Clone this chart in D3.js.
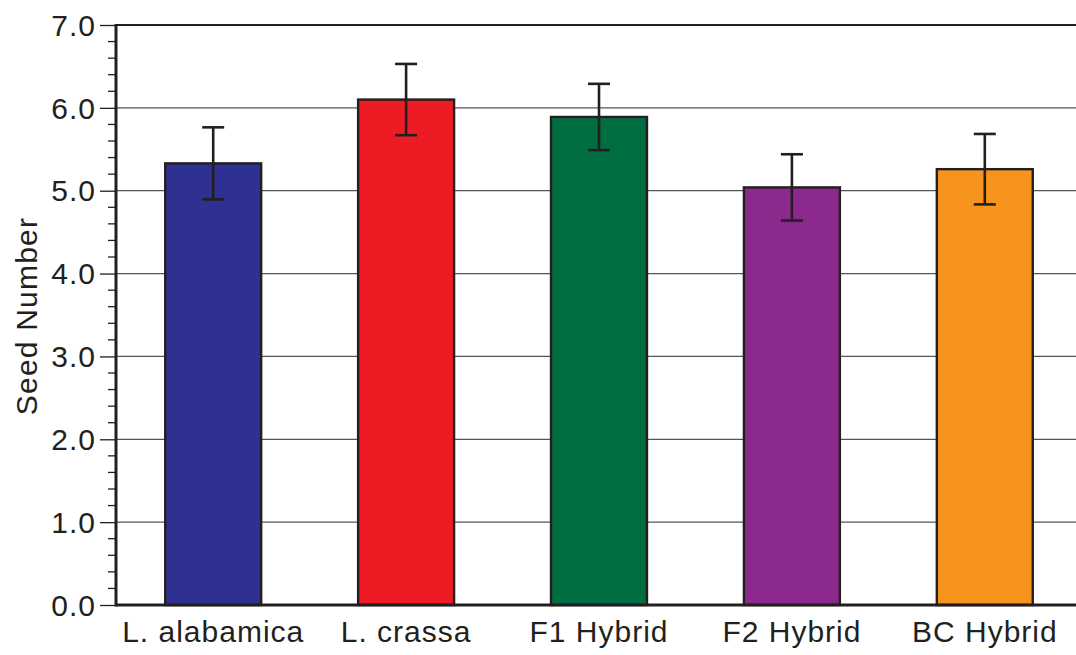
<!DOCTYPE html>
<html>
<head>
<meta charset="utf-8">
<script src="https://cdn.jsdelivr.net/npm/d3@7"></script>
<style>
  html, body { margin: 0; padding: 0; background: #fff; }
  svg { display: block; font-family: "Liberation Sans", Arial, Helvetica, sans-serif; }
</style>
</head>
<body>
<svg id="chart" width="1076" height="655"></svg>
<script>
// Mean seed number per cross type, with error bar half-widths
const categories = ["L. alabamica", "L. crassa", "F1 Hybrid", "F2 Hybrid", "BC Hybrid"];
const means = [5.33, 6.10, 5.89, 5.04, 5.26];
const errors = [0.435, 0.43, 0.40, 0.40, 0.425];
const colors = ["#2e3192", "#ed1c24", "#006e41", "#8b2a8c", "#f7941d"];
const yTicks = [0, 1, 2, 3, 4, 5, 6, 7];
const yLabel = "Seed Number";

const svg = d3.select("#chart");
const margin = { top: 25, right: 0, bottom: 50, left: 116 };
const W = 1076, H = 655;
const plotW = W - margin.left - margin.right;
const plotH = H - margin.top - margin.bottom;
const ink = "#231f20";
const fontFam = "'Liberation Sans', Arial, sans-serif";

const g = svg.append("g").attr("transform", `translate(${margin.left},${margin.top})`);

const x = d3.scaleBand().domain(categories).range([1, 965]).paddingInner(0.5026).paddingOuter(0.25);
const y = d3.scaleLinear().domain([0, 7]).range([plotH, 0]);

// horizontal gridlines
g.append("g").selectAll("line").data(yTicks.filter(t => t > 0 && t < 7)).join("line")
  .attr("x1", 0).attr("x2", plotW)
  .attr("y1", d => y(d)).attr("y2", d => y(d))
  .attr("stroke", "#555").attr("stroke-width", 1.3);

// top frame line
g.append("line").attr("x1", 0).attr("x2", plotW).attr("y1", y(7)).attr("y2", y(7))
  .attr("stroke", ink).attr("stroke-width", 2.2);

// bars
g.append("g").selectAll("rect").data(categories).join("rect")
  .attr("x", d => x(d))
  .attr("y", (d, i) => y(means[i]))
  .attr("width", x.bandwidth())
  .attr("height", (d, i) => plotH - y(means[i]))
  .attr("fill", (d, i) => colors[i])
  .attr("stroke", ink).attr("stroke-width", 2.4);

// error bars
const eb = g.append("g").attr("stroke", ink).attr("stroke-width", 2.6);
categories.forEach((c, i) => {
  const cx = x(c) + x.bandwidth() / 2;
  const hi = y(means[i] + errors[i]), lo = y(means[i] - errors[i]);
  eb.append("line").attr("x1", cx).attr("x2", cx).attr("y1", hi).attr("y2", lo);
  eb.append("line").attr("x1", cx - 11).attr("x2", cx + 11).attr("y1", hi).attr("y2", hi);
  eb.append("line").attr("x1", cx - 11).attr("x2", cx + 11).attr("y1", lo).attr("y2", lo);
});

// minor ticks on the y axis
g.append("g").selectAll("line").data(d3.range(0, 7.01, 0.2).filter(v => Math.abs(v - Math.round(v)) > 0.01)).join("line")
  .attr("x1", -8).attr("x2", 0)
  .attr("y1", d => y(d)).attr("y2", d => y(d))
  .attr("stroke", ink).attr("stroke-width", 1.3);

// y axis with major ticks
const yAxis = d3.axisLeft(y).tickValues(yTicks).tickFormat(d3.format(".1f")).tickSize(16).tickPadding(4);
const ya = g.append("g").call(yAxis);
ya.select(".domain").remove();
ya.selectAll(".tick line").attr("stroke", ink).attr("stroke-width", 1.3);
ya.selectAll(".tick text").attr("font-size", 30).attr("letter-spacing", 1).attr("fill", ink)
  .attr("font-family", fontFam).attr("dy", "0.34em");

g.append("line").attr("x1", 0).attr("x2", 0).attr("y1", -1).attr("y2", plotH + 1.5)
  .attr("stroke", ink).attr("stroke-width", 3);

// x axis baseline and category labels
const xAxis = d3.axisBottom(x).tickSize(0).tickPadding(0);
const xa = g.append("g").attr("transform", `translate(0,${plotH})`).call(xAxis);
xa.select(".domain").remove();
xa.selectAll(".tick text").attr("font-size", 30).attr("letter-spacing", 1).attr("fill", ink)
  .attr("font-family", fontFam).attr("y", 37).attr("dy", 0);
g.append("line").attr("x1", 0).attr("x2", plotW).attr("y1", plotH).attr("y2", plotH)
  .attr("stroke", ink).attr("stroke-width", 3);

// y axis title
svg.append("text")
  .attr("transform", `translate(37,316) rotate(-90)`)
  .attr("text-anchor", "middle")
  .attr("font-size", 30).attr("letter-spacing", 1.2).attr("fill", ink)
  .text(yLabel);
</script>
</body>
</html>
